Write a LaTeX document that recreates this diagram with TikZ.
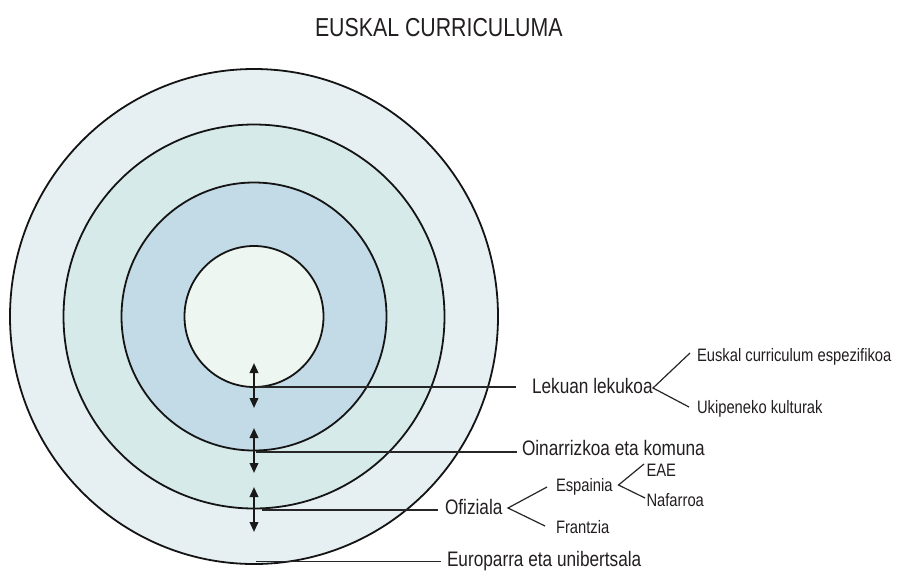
\documentclass[tikz,border=0pt]{standalone}
\usepackage{fontspec}
\setmainfont{Liberation Sans}[FakeStretch=0.82]
\usetikzlibrary{arrows.meta}
\definecolor{ringA}{HTML}{E6F0F2}
\definecolor{ringB}{HTML}{D7EAEA}
\definecolor{ringC}{HTML}{C3DBE6}
\definecolor{ringD}{HTML}{EDF6F1}
\definecolor{txt}{HTML}{231F20}
\begin{document}
\begin{tikzpicture}[x=1pt,y=-1pt,
  ring/.style={draw=black!92, line width=1.8pt},
  conn/.style={draw=black!85, line width=1.2pt},
  dbl/.style={draw=black!90, line width=2pt, {Triangle[length=10pt,width=8.5pt]}-{Triangle[length=10pt,width=8.5pt]}},
  lbl/.style={anchor=base west, inner sep=0pt, outer sep=0pt, text=txt},
  titlelbl/.style={lbl, font=\fontsize{26}{30}\selectfont},
  biglbl/.style={lbl, font=\fontsize{21}{24}\selectfont},
  smalllbl/.style={lbl, font=\fontsize{18}{21}\selectfont},
]
\useasboundingbox (0,0) rectangle (901,571);
\fill[white] (0,0) rectangle (901,571);

% title
\node[titlelbl] (title) at (315,36.5) {EUSKAL CURRICULUMA};

% rings
\coordinate (ctr) at (254,316.5);
\filldraw[ring, fill=ringA] (ctr) ellipse [x radius=244, y radius=247.5];
\filldraw[ring, fill=ringB] (ctr) ellipse [x radius=190.5, y radius=192];
\filldraw[ring, fill=ringC] (ctr) ellipse [x radius=132.5, y radius=134];
\filldraw[ring, fill=ringD] (ctr) ellipse [x radius=69.5, y radius=70.5];

% labels
\node[biglbl] (lek) at (532,393) {Lekuan lekukoa};
\node[biglbl] (oin) at (522,455.5) {Oinarrizkoa eta komuna};
\node[biglbl] (ofi) at (445,514) {Ofiziala};
\node[biglbl] (eur) at (447,566.5) {Europarra eta unibertsala};
\node[smalllbl] (esk) at (697,361) {Euskal curriculum espezifikoa};
\node[smalllbl] (uki) at (697,413) {Ukipeneko kulturak};
\node[smalllbl] (esp) at (556,491) {Espainia};
\node[smalllbl] (fra) at (556,533.5) {Frantzia};
\node[smalllbl] (eae) at (646.5,476) {EAE};
\node[smalllbl] (naf) at (646.5,506) {Nafarroa};

% leader lines
\coordinate (s1) at (256,387);   \coordinate (e1) at (516,387);
\coordinate (s2) at (256,452);   \coordinate (e2) at (517,452);
\coordinate (s3) at (262,510);   \coordinate (e3) at (438,510);
\coordinate (s4) at (256,561.5); \coordinate (e4) at (441,561.5);
\draw[conn] (s1) -- (e1);
\draw[conn] (s2) -- (e2);
\draw[conn] (s3) -- (e3);
\draw[conn] (s4) -- (e4);

% double arrows
\coordinate (a1t) at (254,363); \coordinate (a1b) at (254,408);
\coordinate (a2t) at (254,428); \coordinate (a2b) at (254,473);
\coordinate (a3t) at (254,487); \coordinate (a3b) at (254,532);
\draw[dbl] (a1t) -- (a1b);
\draw[dbl] (a2t) -- (a2b);
\draw[dbl] (a3t) -- (a3b);

% brackets
\coordinate (v1) at (653,388); \coordinate (u1) at (690,353); \coordinate (l1) at (689,407);
\draw[conn] (u1) -- (v1) -- (l1);
\coordinate (v2) at (508,508); \coordinate (u2) at (547,487); \coordinate (l2) at (545,526);
\draw[conn] (u2) -- (v2) -- (l2);
\coordinate (v3) at (618.5,485); \coordinate (u3) at (644,464); \coordinate (l3) at (645,498);
\draw[conn] (u3) -- (v3) -- (l3);
\end{tikzpicture}
\end{document}
